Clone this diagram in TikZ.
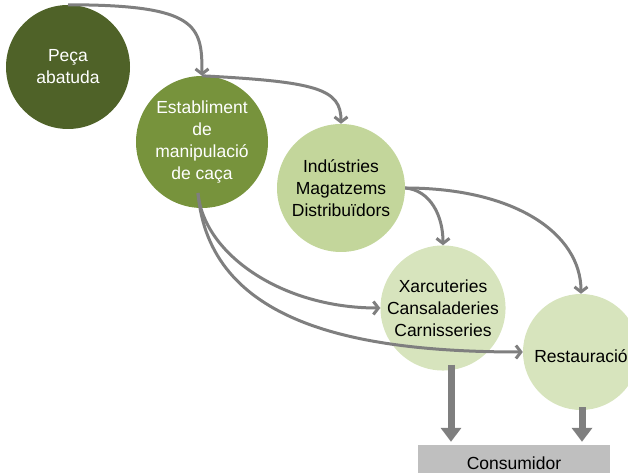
\documentclass[tikz,border=0pt]{standalone}
\usepackage{fontspec}
\setmainfont{Liberation Sans}
\usepackage{tikz}
\usetikzlibrary{arrows.meta,positioning,shapes}
\definecolor{verdfosc}{HTML}{4F6228}
\definecolor{verdmig}{HTML}{77933C}
\definecolor{verdclar}{HTML}{C3D69B}
\definecolor{verdpal}{HTML}{D7E4BD}
\definecolor{gristrac}{HTML}{7F7F7F}
\definecolor{griscaixa}{HTML}{BFBFBF}

\begin{document}
\begin{tikzpicture}[x=1pt, y=1pt, ->, >={Straight Barb[length=5pt,width=13pt]},
	stage/.style={circle, draw=none, inner sep=0pt, align=center,
		font=\fontsize{17.5}{22}\selectfont},
	flow/.style={draw=gristrac, line width=3pt},
	bigflow/.style={draw=gristrac, line width=7pt, -{Triangle[length=14pt,width=20pt]}, shorten >=3pt}]
	\path[use as bounding box, clip] (0,0) rectangle (628,473);
	\node[stage, fill=verdfosc, text=white, minimum size=124pt]	(peca) at (68, 406)  {Peça\\abatuda};
	\node[stage, fill=verdmig, text=white, minimum size=132pt]	(estab) at (202, 331)  {Establiment\\de\\manipulació\\de caça};
	\node[stage, fill=verdclar, minimum size=128pt]	(indus) at (341, 285)  {Indústries\\Magatzems\\Distribuïdors};
	\node[stage, fill=verdpal, minimum size=120pt]	(xarc) at (443, 165)  {Xarcuteries\\Cansaladeries\\Carnisseries};
	\node[stage, fill=verdpal, minimum size=116pt]	(rest) at (581, 121)  {\\Restauració};
	\node[rectangle, fill=griscaixa, minimum width=192pt, minimum height=36pt,
		font=\fontsize{17.5}{22}\selectfont]	(cons) at (514, 10)  {Consumidor};
	\coordinate (estout) at (198, 280);
	\coordinate (xarcdown) at ([xshift=8pt, yshift=6pt]xarc.south);
	\coordinate (restdown) at ([xshift=1pt, yshift=3pt]rest.south);
	\path (peca.north) edge[flow, out=0, in=90, out distance=130pt, in distance=50pt] (estab.north);
	\path (estab.north) edge[flow, out=-3, in=90, out distance=115pt, in distance=35pt] (indus.north);
	\path (estout) edge[flow, out=-85, in=180, out distance=60pt, in distance=100pt] (xarc.west);
	\path (estout) edge[flow, out=-85, in=180, out distance=130pt, in distance=170pt] (rest.west);
	\path (indus.east) edge[flow, out=-5, in=90, out distance=25pt, in distance=30pt] (xarc.north);
	\path (indus.east) edge[flow, out=0, in=90, out distance=110pt, in distance=60pt] (rest.north);
	\draw[bigflow] (xarcdown) -- (xarcdown |- cons.north);
	\draw[bigflow] (restdown) -- (restdown |- cons.north);
\end{tikzpicture}
\end{document}
